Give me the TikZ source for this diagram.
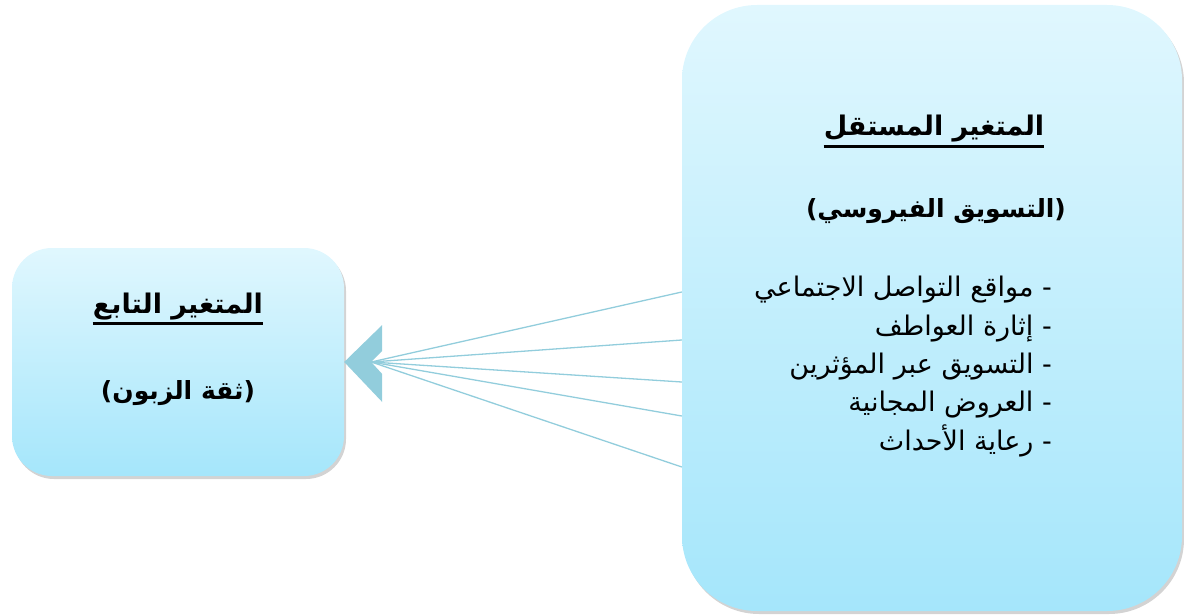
\documentclass[tikz,border=0pt]{standalone}
\usepackage{fontspec}
\setmainfont{Liberation Sans}
\newfontfamily\arabicfont[Script=Arabic]{DejaVu Sans}
\TeXXeTstate=1
\usetikzlibrary{shadows,calc}

\definecolor{boxtop}{HTML}{E0F7FE}
\definecolor{boxbottom}{HTML}{A5E6FB}
\definecolor{linkblue}{HTML}{92CDDC}

\tikzset{
	varbox/.style={rounded corners=#1, top color=boxtop, bottom color=boxbottom,
		drop shadow={shadow xshift=2pt, shadow yshift=-3pt, opacity=0.35}},
	headtext/.style={font=\arabicfont\bfseries\fontsize{27}{32}\selectfont, inner sep=0pt, anchor=base},
	subtext/.style={headtext, font=\arabicfont\bfseries\fontsize{25}{30}\selectfont},
	listtext/.style={font=\arabicfont\fontsize{27}{32}\selectfont, inner sep=0pt, anchor=base east},
	headline/.style={line width=3pt},
	link/.style={draw=linkblue, line width=1.3pt}
}

\begin{document}
\begin{tikzpicture}[x=1pt, y=-1pt]
	\useasboundingbox (0,0) rectangle (1184,615);
	
	% the two variables
	\node[varbox=40pt, minimum width=332pt, minimum height=228pt] (dep) at (178,362) {};
	\node[varbox=75pt, minimum width=500pt, minimum height=606pt] (indep) at (932,308) {};
	
	\node[headtext] (depname) at (178,313) {\beginR المتغير التابع\endR};
	\node[subtext] (depsub) at (178,399) {\beginR(ثقة الزبون)\endR};
	\draw[headline] ($(depname.base west)+(0,10)$) -- ($(depname.base east)+(0,10)$);
	
	\node[headtext] (indepname) at (934,136) {\beginR المتغير المستقل\endR};
	\node[subtext] (indepsub) at (936,217) {\beginR(التسويق الفيروسي)\endR};
	\draw[headline] ($(indepname.base west)+(0,11)$) -- ($(indepname.base east)+(0,11)$);
	
	\foreach \t [count=\i] in {مواقع التواصل الاجتماعي, إثارة العواطف, التسويق عبر المؤثرين, العروض المجانية, رعاية الأحداث}
		\node[listtext] (item\i) at (1052,{296.7+38.4*(\i-1)}) {\beginR - \t\endR};
	
	% links
	\coordinate (meet) at ($(dep.east)+(27,0)$);
	\foreach \y in {292,340,382,416,467}
		\draw[link] (indep.west |- 0,\y) -- (meet);
	\fill[linkblue] (dep.east) -- ++(38,-37) -- ++(0,26) -- ++(-11,11) -- ++(11,12) -- ++(0,28) -- cycle;
	
\end{tikzpicture}
\end{document}
